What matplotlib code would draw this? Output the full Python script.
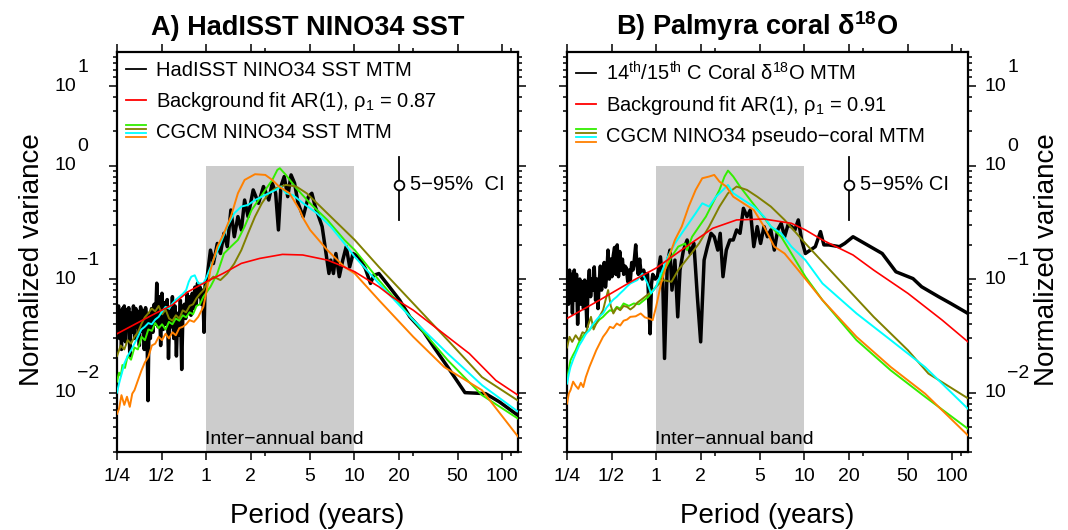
import numpy as np
import matplotlib
matplotlib.use('Agg')
from matplotlib import pyplot as plt
from matplotlib import ticker
from matplotlib.lines import Line2D
from matplotlib.legend_handler import HandlerBase

plt.rcParams['font.family'] = 'Liberation Sans'
plt.rcParams['mathtext.fontset'] = 'custom'
plt.rcParams['mathtext.rm'] = 'Liberation Sans'
plt.rcParams['mathtext.default'] = 'regular'

# axis ticks
x_ticks = [0.25, 0.5, 1, 2, 5, 10, 20, 50, 100]
x_labels = ['1/4', '1/2', '1', '2', '5', '10', '20', '50', '100']
x_minor = [2.5, 25, 115]
y_ticks = [0.01, 0.1, 1, 5]
y_exps = ['−2', '−1', '0', '1']

# inter-annual band and CI marker
band_x = [1, 10]
band_top = 1.0
ci_x, ci_mid, ci_lo, ci_hi = 20, 0.675, 0.332, 1.18

# ---- Panel A: HadISST NINO34 SST ----
had_per = [0.252, 0.256, 0.260, 0.264, 0.268, 0.272, 0.276, 0.280, 0.285, 0.290, 0.295, 0.300, 0.305, 0.311,
           0.317, 0.323, 0.329, 0.335, 0.341, 0.347, 0.354, 0.361, 0.368, 0.375, 0.382, 0.390, 0.398, 0.405,
           0.412, 0.420, 0.428, 0.437, 0.446, 0.455, 0.464, 0.473, 0.483, 0.493, 0.503, 0.513, 0.524, 0.535,
           0.546, 0.557, 0.568, 0.580, 0.592, 0.604, 0.617, 0.630, 0.643, 0.656, 0.670, 0.684, 0.698, 0.713,
           0.728, 0.743, 0.758, 0.774, 0.790, 0.806, 0.823, 0.840, 0.857, 0.875, 0.893, 0.911, 0.930, 0.949,
           0.968, 0.985,
           1.01, 1.07, 1.12, 1.19, 1.25, 1.32, 1.39, 1.47, 1.55, 1.64, 1.73, 1.82, 1.92,
           2.08, 2.26, 2.44, 2.65, 2.80, 2.95, 3.08, 3.20, 3.37, 3.56, 3.75, 3.96, 4.18, 4.53, 4.91, 5.18, 5.46,
           5.76, 6.08, 6.41, 6.76, 6.95, 7.25, 7.53, 7.94, 8.38, 8.84, 9.33, 9.84, 10.7, 11.9, 12.9, 13.6, 14.7,
           17.3, 20.3, 23.8, 29.5, 34.7, 42.9, 56.1, 77.3, 95.7, 128]
had_var = [0.045, 0.058, 0.030, 0.052, 0.024, 0.055, 0.040, 0.058, 0.028, 0.054, 0.036, 0.056, 0.021, 0.050,
           0.034, 0.058, 0.030, 0.055, 0.038, 0.052, 0.026, 0.057, 0.035, 0.053, 0.024, 0.056, 0.040, 0.0085,
           0.048, 0.030, 0.055, 0.034, 0.060, 0.040, 0.092, 0.038, 0.070, 0.026, 0.075, 0.036, 0.062, 0.040,
           0.066, 0.020, 0.052, 0.038, 0.070, 0.030, 0.058, 0.021, 0.050, 0.032, 0.065, 0.016, 0.055, 0.060,
           0.045, 0.075, 0.050, 0.070, 0.048, 0.075, 0.055, 0.085, 0.060, 0.092, 0.070, 0.085, 0.060, 0.080,
           0.034, 0.090,
           0.098, 0.180, 0.137, 0.206, 0.168, 0.253, 0.193, 0.406, 0.236,
           0.355, 0.271, 0.497, 0.355, 0.610, 0.465, 0.653, 0.497, 0.699, 0.570, 0.271, 0.653, 0.800, 0.532,
           0.827, 0.699, 0.465, 0.355, 0.532, 0.570, 0.435, 0.355, 0.290, 0.180, 0.112, 0.147, 0.112, 0.168,
           0.105, 0.147, 0.193, 0.128, 0.168, 0.157, 0.124, 0.0916, 0.108, 0.112, 0.0856, 0.0653, 0.0465,
           0.0343, 0.025, 0.0168, 0.0100, 0.0098, 0.0083, 0.0063]

ar_a_per = [0.25, 0.453, 0.592, 0.75, 1.0, 1.3, 1.73, 2.3, 3.28, 4.5, 6.59, 8.0, 10.1, 14.7, 18, 25.1, 42.9,
            60, 90.8, 128]
ar_a_var = [0.0330, 0.0498, 0.0592, 0.077, 0.0946, 0.112, 0.1375, 0.152, 0.165, 0.163, 0.147, 0.133, 0.116,
            0.0856, 0.0698, 0.0532, 0.031, 0.0221, 0.0128, 0.0095]

olive_a_per = [0.25, 0.265, 0.280, 0.295, 0.311, 0.328, 0.346, 0.365, 0.385, 0.407, 0.429, 0.453, 0.478, 0.505,
               0.532, 0.562, 0.592, 0.625, 0.659, 0.695, 0.733, 0.774, 0.816, 0.862, 0.908, 0.96, 1.01,
               1.12, 1.25, 1.39, 1.55, 1.73, 1.92, 2.14, 2.38, 2.65, 2.95, 3.46, 4.07, 4.78, 5.92, 7.73, 10.1,
               14.7, 25.1, 42.9, 73.1, 128]
olive_a_var = [0.021, 0.026, 0.024, 0.029, 0.027, 0.031, 0.034, 0.040, 0.046, 0.050, 0.055, 0.052, 0.058,
               0.049, 0.054, 0.045, 0.043, 0.048, 0.045, 0.053, 0.051, 0.058, 0.060, 0.068, 0.074, 0.080, 0.092,
               0.105, 0.098, 0.112, 0.137, 0.180, 0.253, 0.355, 0.465, 0.570, 0.631, 0.675,
               0.653, 0.570, 0.435, 0.310, 0.221, 0.128, 0.061, 0.029, 0.0137, 0.0085]

green_a_per = [0.25, 0.258, 0.265, 0.272, 0.283, 0.295, 0.311, 0.328, 0.346, 0.366, 0.386, 0.407, 0.430, 0.453,
               0.478, 0.504, 0.532, 0.561, 0.592, 0.624, 0.659, 0.695, 0.733, 0.773, 0.816, 0.861, 0.908, 0.958,
               1.07, 1.19, 1.32, 1.47, 1.64, 1.82, 2.03, 2.26, 2.51, 2.80, 3.03, 3.15, 3.46, 4.07, 5.04, 6.59,
               8.6, 10.1, 14.7, 25.1, 42.9, 73.1, 128]
green_a_var = [0.0125, 0.0150, 0.0140, 0.0175, 0.0165, 0.0210, 0.0195, 0.0250, 0.0240, 0.031, 0.029, 0.036,
               0.035, 0.041, 0.037, 0.040, 0.036, 0.042, 0.040, 0.045, 0.043, 0.048, 0.046, 0.051, 0.049, 0.058,
               0.060, 0.0698, 0.0856, 0.112, 0.168, 0.193, 0.221, 0.290, 0.406, 0.497, 0.610, 0.747, 0.916,
               0.947, 0.827, 0.631, 0.465, 0.332, 0.221, 0.180, 0.098, 0.0435, 0.0193, 0.0095, 0.0059]

cyan_a_per = [0.25, 0.258, 0.265, 0.272, 0.280, 0.295, 0.311, 0.328, 0.346, 0.365, 0.385, 0.407, 0.429, 0.453,
              0.478, 0.505, 0.532, 0.562, 0.592, 0.625, 0.659, 0.695, 0.733, 0.764, 0.794, 0.838,
              0.885, 0.958, 1.01, 1.12, 1.25, 1.39, 1.55, 1.73, 1.92, 2.14, 2.38, 2.65, 2.95, 3.20, 3.46, 3.85,
              4.53, 5.61, 6.95, 8.6, 10.1, 14.7, 25.1, 42.9, 73.3, 128]
cyan_a_var = [0.0100, 0.0120, 0.0137, 0.0155, 0.018, 0.021, 0.0236, 0.027, 0.031, 0.036, 0.038, 0.041, 0.040,
              0.044, 0.0465, 0.052, 0.057, 0.055, 0.061, 0.066, 0.0698, 0.074, 0.080, 0.095, 0.105,
              0.108, 0.0916, 0.0916, 0.105, 0.147, 0.206, 0.290, 0.380, 0.435, 0.450, 0.497, 0.532, 0.570,
              0.610, 0.653, 0.570, 0.551, 0.465, 0.380, 0.290, 0.206, 0.157, 0.0916, 0.0435, 0.0221, 0.0116,
              0.0068]

orange_a_per = [0.25, 0.258, 0.268, 0.280, 0.292, 0.305, 0.317, 0.328, 0.346, 0.366, 0.386, 0.407, 0.430,
                0.453, 0.478, 0.504, 0.532, 0.561, 0.592, 0.624, 0.659, 0.695, 0.733, 0.773, 0.828,
                0.885, 0.958, 1.0, 1.07, 1.19, 1.32, 1.47, 1.64, 1.82, 2.14, 2.51, 2.80, 3.11, 3.66, 4.29, 4.53,
                5.04, 6.59, 8.6, 10.1, 14.7, 25.1, 40.6, 73.1, 128]
orange_a_var = [0.0065, 0.0072, 0.0095, 0.0078, 0.0092, 0.0075, 0.0098, 0.0105, 0.0128, 0.0157, 0.0185, 0.0206,
                0.026, 0.027, 0.031, 0.029, 0.033, 0.030, 0.034, 0.032, 0.037, 0.038, 0.040, 0.0435, 0.042,
                0.0465, 0.057, 0.0748, 0.120, 0.193, 0.253, 0.355, 0.570, 0.747, 0.839, 0.827, 0.747,
                0.653, 0.570, 0.406, 0.343, 0.271, 0.180, 0.128, 0.112, 0.0653, 0.031, 0.0168, 0.0105, 0.0041]

# ---- Panel B: Palmyra coral d18O ----
coral_per = [0.252, 0.256, 0.260, 0.264, 0.268, 0.272, 0.276, 0.280, 0.285, 0.290, 0.295, 0.300, 0.305, 0.311,
             0.317, 0.323, 0.329, 0.335, 0.341, 0.347, 0.354, 0.361, 0.368, 0.375, 0.382, 0.390, 0.398, 0.405,
             0.412, 0.420, 0.428, 0.437, 0.446, 0.455, 0.464, 0.473, 0.483, 0.493, 0.503, 0.513, 0.524, 0.535,
             0.546, 0.557, 0.568, 0.580, 0.592, 0.604, 0.617, 0.630, 0.643, 0.656, 0.670, 0.684, 0.698, 0.713,
             0.728, 0.743, 0.758, 0.774, 0.790, 0.806, 0.823, 0.840, 0.857, 0.875, 0.893, 0.911, 0.930, 0.949,
             0.968, 0.985,
             1.02, 1.07, 1.11, 1.14, 1.19, 1.24, 1.28, 1.34, 1.40, 1.45, 1.53, 1.62,
             1.70, 1.80, 1.90, 2.00, 2.11, 2.22, 2.35, 2.47, 2.61, 2.71, 2.83, 2.98, 3.15, 3.32, 3.50, 3.69,
             3.89, 4.11, 4.33, 4.57, 4.82, 5.08, 5.36, 5.65, 5.96, 6.29, 6.63, 7.00, 7.38, 7.78, 8.21, 8.66,
             9.13, 9.63, 10.2, 11.0, 11.9, 12.9, 13.6, 14.7, 17.3, 18.8, 21.4, 28.0, 33.7, 41.7, 54.4, 62.2,
             81.3, 97.9, 128]
coral_var = [0.090, 0.060, 0.120, 0.075, 0.110, 0.050, 0.095, 0.120, 0.065, 0.110, 0.040, 0.085, 0.100, 0.060,
             0.095, 0.055, 0.098, 0.070, 0.038, 0.090, 0.120, 0.070, 0.100, 0.080, 0.128, 0.065, 0.100, 0.055,
             0.092, 0.130, 0.080, 0.115, 0.140, 0.085, 0.110, 0.180, 0.100, 0.150, 0.105, 0.160, 0.190, 0.110,
             0.200, 0.105, 0.175, 0.120, 0.150, 0.110, 0.130, 0.125, 0.095, 0.120, 0.098, 0.140, 0.120, 0.150,
             0.200, 0.130, 0.110, 0.150, 0.115, 0.100, 0.120, 0.105, 0.110, 0.112, 0.060, 0.033, 0.090, 0.110,
             0.105, 0.100,
             0.105, 0.157, 0.0916, 0.020, 0.137, 0.180, 0.080, 0.147,
             0.0465, 0.120, 0.180, 0.221, 0.168, 0.206, 0.0698, 0.028, 0.147, 0.193,
             0.253, 0.236, 0.180, 0.253, 0.105, 0.180, 0.221, 0.221, 0.271, 0.253,
             0.420, 0.355, 0.406, 0.193, 0.290, 0.206, 0.290, 0.236, 0.271, 0.180,
             0.271, 0.310, 0.236, 0.30, 0.290, 0.271, 0.332, 0.221, 0.168, 0.180,
             0.193, 0.262, 0.20, 0.20, 0.193, 0.206, 0.236, 0.193, 0.168, 0.116,
             0.101, 0.0856, 0.0698, 0.061, 0.0498]

ar_b_per = [0.25, 0.415, 0.707, 1.0, 1.57, 2.41, 3.50, 5.36, 8.21, 10.2, 13.3, 21.4, 29.5, 50.3, 85.7, 128]
ar_b_var = [0.045, 0.0653, 0.098, 0.125, 0.19, 0.280, 0.332, 0.338, 0.310, 0.271, 0.221, 0.163, 0.120, 0.0748,
            0.0435, 0.028]

olive_b_per = [0.25, 0.260, 0.271, 0.286, 0.302, 0.318, 0.335, 0.349, 0.363, 0.378, 0.394, 0.415, 0.438, 0.455,
               0.474, 0.494, 0.514, 0.542, 0.572, 0.603, 0.636, 0.670, 0.707, 0.746, 0.787, 0.842, 0.899, 0.948,
               1.0, 1.11, 1.27, 1.41, 1.66, 1.95, 2.28, 2.68, 3.06, 3.50, 4.11, 4.82, 5.96, 7.38, 10.2, 17.3,
               29.5, 50.3, 69.2, 128]
olive_b_var = [0.0250, 0.031, 0.028, 0.032, 0.029, 0.034, 0.0332, 0.040, 0.0465, 0.036, 0.0406, 0.047, 0.0532,
               0.065, 0.080, 0.058, 0.0498, 0.056, 0.0532, 0.058, 0.057, 0.054, 0.057, 0.062, 0.0653, 0.070,
               0.0748, 0.080, 0.0856, 0.098, 0.0947, 0.120, 0.157, 0.206, 0.290, 0.435, 0.570, 0.653, 0.610,
               0.532, 0.435, 0.332, 0.206, 0.098, 0.0465, 0.0236, 0.0147, 0.0089]

green_b_per = [0.25, 0.257, 0.264, 0.275, 0.286, 0.302, 0.318, 0.336, 0.354, 0.374, 0.394, 0.415, 0.438, 0.462,
               0.487, 0.514, 0.542, 0.572, 0.603, 0.655, 0.707, 0.766, 0.830, 0.876, 0.923, 0.975, 1.03,
               1.14, 1.27, 1.41, 1.57, 1.62, 1.75, 1.95, 2.17, 2.41, 2.68, 2.90, 3.06, 3.32, 3.69, 4.33, 5.08,
               5.96, 7.00, 8.21, 10.2, 13.3, 22.6, 38.5, 65.6, 128]
green_b_var = [0.0130, 0.0160, 0.0193, 0.0215, 0.0236, 0.028, 0.031, 0.034, 0.0355, 0.039, 0.0406, 0.044,
               0.0465, 0.050, 0.0532, 0.052, 0.057, 0.055, 0.061, 0.058, 0.061, 0.060, 0.0653, 0.069, 0.0748,
               0.082, 0.0916, 0.120, 0.157, 0.193, 0.206, 0.180, 0.236, 0.290, 0.355, 0.465, 0.610, 0.800,
               0.903, 0.800, 0.653, 0.497, 0.380, 0.290, 0.236, 0.168, 0.105, 0.0653, 0.029, 0.0157, 0.0092,
               0.0048]

cyan_b_per = [0.25, 0.257, 0.264, 0.275, 0.286, 0.302, 0.318, 0.336, 0.354, 0.374, 0.394, 0.415, 0.438, 0.462,
              0.487, 0.514, 0.542, 0.572, 0.603, 0.636, 0.670, 0.746, 0.808, 0.875,
              0.923, 1.0, 1.08, 1.20, 1.34, 1.49, 1.66, 1.85, 2.05, 2.28, 2.54, 2.83, 3.06, 3.32, 3.89, 4.57,
              5.36, 5.96, 7.00, 8.21, 10.2, 13.3, 22.6, 38.5, 65.6, 128]
cyan_b_var = [0.0120, 0.0145, 0.0168, 0.0195, 0.0221, 0.026, 0.029, 0.033, 0.0355, 0.040, 0.0435, 0.047, 0.0498,
              0.056, 0.061, 0.066, 0.0698, 0.075, 0.080, 0.086, 0.0916, 0.098, 0.112,
              0.0916, 0.0748, 0.0856, 0.112, 0.157, 0.206, 0.253, 0.310, 0.380, 0.465, 0.435, 0.532, 0.610,
              0.675, 0.570, 0.497, 0.435, 0.355, 0.290, 0.253, 0.193, 0.147, 0.0916, 0.0498, 0.029, 0.0168,
              0.0072]

orange_b_per = [0.25, 0.257, 0.264, 0.275, 0.286, 0.298, 0.310, 0.322, 0.335, 0.354, 0.374, 0.394, 0.415, 0.438,
                0.462, 0.487, 0.514, 0.542, 0.572, 0.603, 0.636, 0.670, 0.727, 0.787, 0.840, 0.899, 0.948,
                1.0, 1.08, 1.20, 1.34, 1.49, 1.66, 1.85, 2.05, 2.28, 2.47, 2.68, 2.98, 3.32, 3.89, 4.57, 5.36,
                6.29, 7.38, 9.13, 13.3, 22.6, 38.5, 65.6, 128]
orange_b_var = [0.0080, 0.0098, 0.0105, 0.0125, 0.0115, 0.0108, 0.0122, 0.0112, 0.0137, 0.0168, 0.020, 0.0236,
                0.027, 0.031, 0.034, 0.038, 0.037, 0.0406, 0.039, 0.043, 0.044, 0.0465, 0.047, 0.0498, 0.046,
                0.0448, 0.0435, 0.057, 0.0916, 0.147, 0.221, 0.290, 0.435, 0.610, 0.773, 0.800, 0.827, 0.722,
                0.653, 0.532, 0.465, 0.406, 0.290, 0.193, 0.168, 0.120, 0.0653, 0.031, 0.0168, 0.0098, 0.0042]

model_colors = ['#33ee00', '#808000', '#00ffff', '#ff8000']  # green, olive, cyan, orange


class Stack:
    def __init__(self, colors):
        self.colors = colors


class StackHandler(HandlerBase):
    # four short stacked lines for the model ensemble entry
    def create_artists(self, legend, orig_handle, xdescent, ydescent, width, height, fontsize, trans):
        arts = []
        n = len(orig_handle.colors)
        step = 3.0
        y0 = (height - ydescent) / 2 + step * (n - 1) / 2
        for i, c in enumerate(orig_handle.colors):
            y = y0 - i * step
            ln = Line2D([-xdescent, width - xdescent], [y, y], color=c, lw=1.3, transform=trans)
            arts.append(ln)
        return arts


def setup_axes(ax, side):
    ax.set_xscale('log')
    ax.set_yscale('log')
    ax.set_xlim(0.25, 128)
    ax.set_ylim(0.003, 10)
    ax.xaxis.set_major_locator(ticker.FixedLocator(x_ticks))
    ax.xaxis.set_major_formatter(ticker.FixedFormatter(x_labels))
    ax.xaxis.set_minor_locator(ticker.FixedLocator(x_minor))
    ax.xaxis.set_minor_formatter(ticker.NullFormatter())
    ax.yaxis.set_major_locator(ticker.FixedLocator(y_ticks))
    ax.yaxis.set_major_formatter(ticker.NullFormatter())
    ax.yaxis.set_minor_locator(ticker.LogLocator(base=10, subs=np.arange(2, 10), numticks=30))
    ax.yaxis.set_minor_formatter(ticker.NullFormatter())
    ax.tick_params(which='both', direction='out', top=True, right=True, width=1.1, labelsize=14)
    ax.tick_params(which='major', length=5.5)
    ax.tick_params(which='minor', length=3)
    ax.tick_params(axis='x', pad=6)
    for s in ax.spines.values():
        s.set_linewidth(1.6)

    # "10" with a full size exponent, like the original
    xpos = -0.155 if side == 'left' else 1.042
    for val, e in zip(y_ticks, y_exps):
        ax.annotate('10', xy=(xpos, val), xycoords=('axes fraction', 'data'), ha='left', va='center',
                    fontsize=14, annotation_clip=False)
        ax.annotate(e, xy=(xpos, val), xycoords=('axes fraction', 'data'), xytext=(16, 13.5),
                    textcoords='offset points', ha='left', va='center', fontsize=14, annotation_clip=False)

    ax.fill_between(band_x, 1e-3, band_top, color='#cccccc', lw=0, zorder=0)
    ax.text(3.4, 0.0039, 'Inter−annual band', ha='center', va='center', fontsize=14)
    ax.set_xlabel('Period (years)', fontsize=20)
    ax.xaxis.set_label_coords(0.5, -0.128)
    ax.set_ylabel('Normalized variance', fontsize=20)


def draw_panel(ax, obs, ar, models, ci_label):
    ax.plot(obs[0], obs[1], color='black', lw=2.5, zorder=2)
    for (p, v), c in zip(models, model_colors):
        ax.plot(p, v, color=c, lw=1.4, zorder=3)
    ax.plot(ar[0], ar[1], color='red', lw=1.2, zorder=4)

    ax.plot([ci_x, ci_x], [ci_lo, ci_hi], color='black', lw=1.3, zorder=5)
    ax.plot([ci_x], [ci_mid], 'o', mfc='white', mec='black', ms=7, mew=1.3, zorder=6)
    ax.text(ci_x * 1.2, ci_mid, ci_label, va='center', ha='left', fontsize=14.5)


fig = plt.figure(figsize=(10.68, 5.30), dpi=100)
ax1 = fig.add_axes([117 / 1068, 1 - 452 / 530, 401 / 1068, 400 / 530])
ax2 = fig.add_axes([567 / 1068, 1 - 452 / 530, 401 / 1068, 400 / 530])

setup_axes(ax1, 'left')
setup_axes(ax2, 'right')

draw_panel(ax1, (had_per, had_var), (ar_a_per, ar_a_var),
           [(green_a_per, green_a_var), (olive_a_per, olive_a_var), (cyan_a_per, cyan_a_var),
            (orange_a_per, orange_a_var)], '5−95%  CI')
draw_panel(ax2, (coral_per, coral_var), (ar_b_per, ar_b_var),
           [(green_b_per, green_b_var), (olive_b_per, olive_b_var), (cyan_b_per, cyan_b_var),
            (orange_b_per, orange_b_var)], '5−95% CI')

ax1.yaxis.set_label_coords(-0.18, 0.48)
ax2.yaxis.set_label_position('right')
ax2.yaxis.set_label_coords(1.165, 0.48)

ax1.set_title('A) HadISST NINO34 SST', fontsize=19.5, fontweight='bold', pad=12, x=0.475)
ax2.set_title('B) Palmyra coral δ$^{18}$O', fontsize=19.5, fontweight='bold', pad=12, x=0.475)

leg_kw = dict(loc='upper left', frameon=False, fontsize=14.5, handlelength=1.0, handletextpad=0.5,
              borderaxespad=0.05, labelspacing=0.5, handler_map={Stack: StackHandler()})
h_a = [Line2D([], [], color='black', lw=1.3), Line2D([], [], color='red', lw=1.3), Stack(model_colors)]
ax1.legend(h_a, ['HadISST NINO34 SST MTM', 'Background fit AR(1), ρ$_1$ = 0.87', 'CGCM NINO34 SST MTM'],
           **leg_kw)
ax2.legend(h_a, ['14$^{th}$/15$^{th}$ C Coral δ$^{18}$O MTM', 'Background fit AR(1), ρ$_1$ = 0.91',
                 'CGCM NINO34 pseudo−coral MTM'], **leg_kw)

plt.savefig('out.png', dpi=100)
